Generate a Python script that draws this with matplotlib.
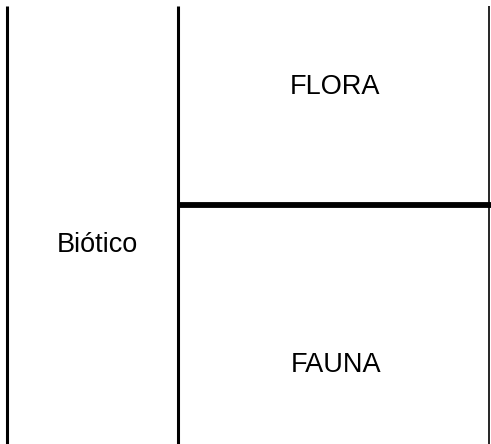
import matplotlib.pyplot as plt

plt.rcParams['font.family'] = ['Liberation Sans', 'DejaVu Sans']

# table content
group_label = "Biótico"
sub_labels = ["FLORA", "FAUNA"]

W, H = 491, 444
fig = plt.figure(figsize=(W / 100, H / 100), dpi=100)
ax = fig.add_axes([0, 0, 1, 1])
ax.set_xlim(0, W)
ax.set_ylim(H, 0)
ax.axis("off")

top = 6
# left border, middle divider, right border
ax.plot([7.5, 7.5], [top, H], color="black", lw=2.2, solid_capstyle="butt")
ax.plot([178.5, 178.5], [top, H], color="black", lw=2.2, solid_capstyle="butt")
ax.plot([489.5, 489.5], [top, H], color="black", lw=1.2, solid_capstyle="butt")
# split between the two rows
ax.plot([177, W], [205, 205], color="black", lw=4.2, solid_capstyle="butt")

fs = 19.5
ax.text(97, 252, group_label, ha="center", va="baseline", fontsize=fs)
ax.text(335.5, 94, sub_labels[0], ha="center", va="baseline", fontsize=fs)
ax.text(336, 372, sub_labels[1], ha="center", va="baseline", fontsize=fs)

fig.savefig("out.png", dpi=100)
